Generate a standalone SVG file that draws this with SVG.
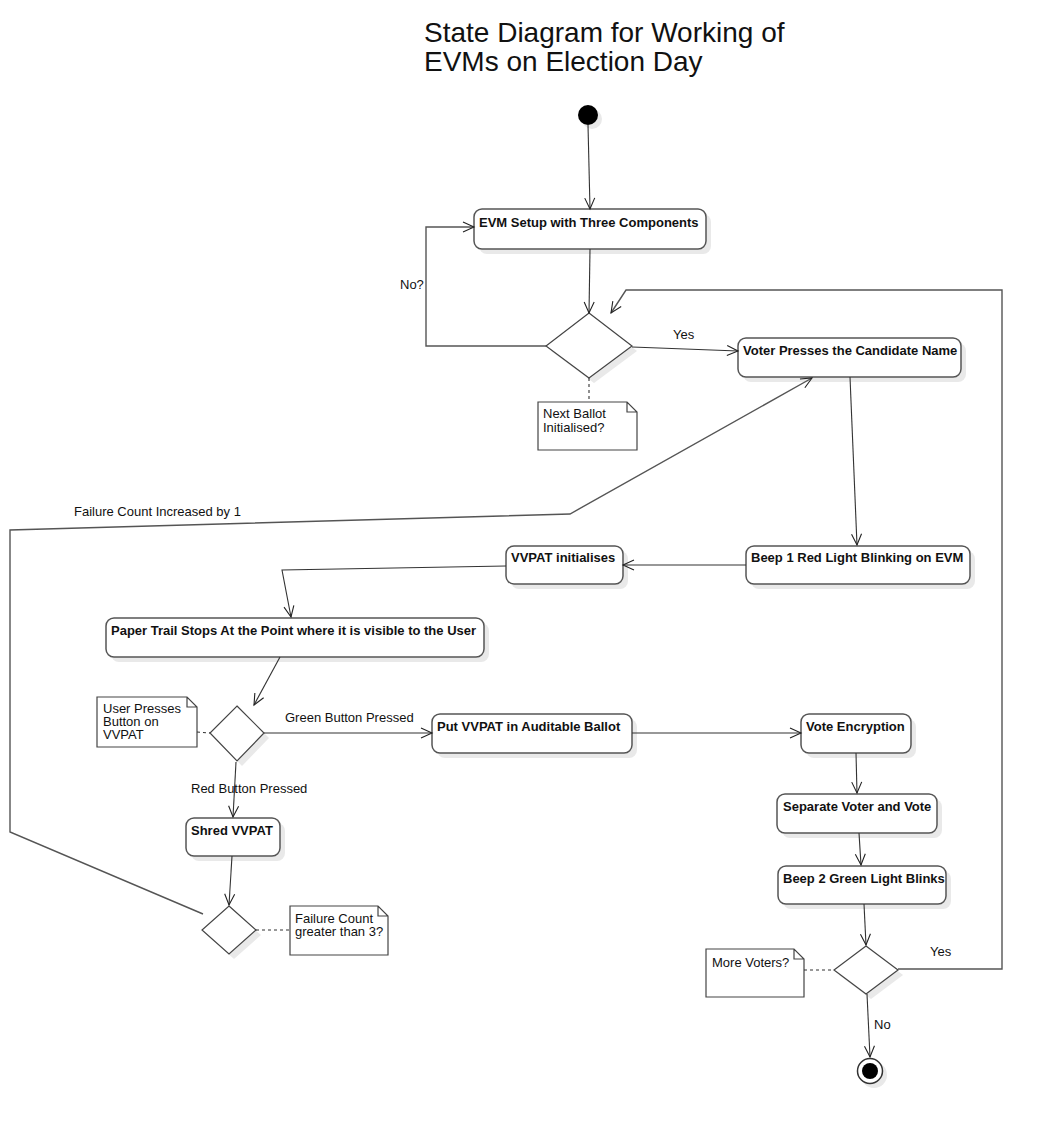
<svg xmlns="http://www.w3.org/2000/svg" width="1043" height="1123" viewBox="0 0 1043 1123">
<style>
text{font-family:"Liberation Sans",Arial,sans-serif;fill:#111}
.t{font-size:28px}
.b{font-size:13px;font-weight:bold}
.l{font-size:13px}
.box{fill:#fff;stroke:#555;stroke-width:1.5}
.sh{fill:#e9e9e9}
.dia{fill:#fff;stroke:#444;stroke-width:1.2}
.note{fill:#fff;stroke:#444;stroke-width:1.2}
.c{fill:none;stroke:#333;stroke-width:1.1}
.g{fill:none;stroke:#555;stroke-width:1.4}
.d{fill:none;stroke:#333;stroke-width:1.1;stroke-dasharray:3,3}
</style>
<defs>
<marker id="arr" markerUnits="userSpaceOnUse" markerWidth="14" markerHeight="14" refX="0" refY="0" orient="auto" overflow="visible">
<path d="M-11,-5 L0,0 L-11,5" fill="none" stroke="#222" stroke-width="1.1"/>
</marker>
</defs>
<rect width="1043" height="1123" fill="#fff"/>

<g id="title">
<text class="t" x="424" y="42">State Diagram for Working of</text>
<text class="t" x="424" y="71">EVMs on Election Day</text>
</g>

<g id="initial">
<circle class="sh" cx="592" cy="119" r="10"/>
<circle cx="588" cy="115" r="10" fill="#000"/>
</g>

<g id="evm-setup">
<rect class="sh" x="479" y="214" width="232" height="40" rx="8"/>
<rect class="box" x="474" y="209" width="232" height="40" rx="8"/>
<text class="b" x="479" y="227">EVM Setup with Three Components</text>
</g>

<g id="decision-ballot">
<polygon class="sh" points="594,318 637,351 594,383 551,351"/>
<polygon class="dia" points="589,313 632,346 589,378 546,346"/>
</g>

<g id="note-ballot">
<path class="note" d="M538,402 L627,402 L637,412 L637,450 L538,450 Z M627,402 L627,412 L637,412"/>
<text class="l" x="543" y="418">Next Ballot</text>
<text class="l" x="543" y="432">Initialised?</text>
</g>

<g id="voter-presses">
<rect class="sh" x="743" y="343" width="223" height="39" rx="8"/>
<rect class="box" x="738" y="338" width="223" height="39" rx="8"/>
<text class="b" x="743" y="355">Voter Presses the Candidate Name</text>
</g>

<g id="beep1">
<rect class="sh" x="751" y="551" width="224" height="38" rx="8"/>
<rect class="box" x="746" y="546" width="224" height="38" rx="8"/>
<text class="b" x="751" y="562">Beep 1 Red Light Blinking on EVM</text>
</g>

<g id="vvpat-init">
<rect class="sh" x="511" y="551" width="117" height="38" rx="8"/>
<rect class="box" x="506" y="546" width="117" height="38" rx="8"/>
<text class="b" x="511" y="562">VVPAT initialises</text>
</g>

<g id="paper-trail">
<rect class="sh" x="111" y="623" width="378" height="39" rx="8"/>
<rect class="box" x="106" y="618" width="378" height="39" rx="8"/>
<text class="b" x="111" y="635">Paper Trail Stops At the Point where it is visible to the User</text>
</g>

<g id="decision-button">
<polygon class="sh" points="242,711 269,738 242,766 215,738"/>
<polygon class="dia" points="237,706 264,733 237,761 210,733"/>
</g>

<g id="note-button">
<path class="note" d="M97,697 L187,697 L197,707 L197,747 L97,747 Z M187,697 L187,707 L197,707"/>
<text class="l" x="103" y="713">User Presses</text>
<text class="l" x="103" y="726">Button on</text>
<text class="l" x="103" y="739">VVPAT</text>
</g>

<g id="put-vvpat">
<rect class="sh" x="437" y="719" width="200" height="39" rx="8"/>
<rect class="box" x="432" y="714" width="200" height="39" rx="8"/>
<text class="b" x="437" y="731">Put VVPAT in Auditable Ballot</text>
</g>

<g id="vote-encryption">
<rect class="sh" x="806" y="719" width="110" height="39" rx="8"/>
<rect class="box" x="801" y="714" width="110" height="39" rx="8"/>
<text class="b" x="806" y="731">Vote Encryption</text>
</g>

<g id="separate">
<rect class="sh" x="782" y="799" width="160" height="39" rx="8"/>
<rect class="box" x="777" y="794" width="160" height="39" rx="8"/>
<text class="b" x="783" y="811">Separate Voter and Vote</text>
</g>

<g id="beep2">
<rect class="sh" x="783" y="871" width="168" height="38" rx="8"/>
<rect class="box" x="778" y="866" width="168" height="38" rx="8"/>
<text class="b" x="783" y="883">Beep 2 Green Light Blinks</text>
</g>

<g id="shred">
<rect class="sh" x="191" y="823" width="94" height="38" rx="8"/>
<rect class="box" x="186" y="818" width="94" height="38" rx="8"/>
<text class="b" x="191" y="835">Shred VVPAT</text>
</g>

<g id="decision-failure">
<polygon class="sh" points="234,911 261,935 234,959 207,935"/>
<polygon class="dia" points="229,906 256,930 229,954 202,930"/>
</g>

<g id="note-failure">
<path class="note" d="M290,906 L378,906 L388,916 L388,955 L290,955 Z M378,906 L378,916 L388,916"/>
<text class="l" x="295" y="923">Failure Count</text>
<text class="l" x="295" y="936">greater than 3?</text>
</g>

<g id="decision-voters">
<polygon class="sh" points="871,951 903,975 871,999 839,975"/>
<polygon class="dia" points="866,946 898,970 866,994 834,970"/>
</g>

<g id="note-voters">
<path class="note" d="M706,949 L794,949 L804,959 L804,997 L706,997 Z M794,949 L794,959 L804,959"/>
<text class="l" x="712" y="967">More Voters?</text>
</g>

<g id="final">
<circle class="sh" cx="874" cy="1075" r="13"/>
<circle cx="870" cy="1071" r="12.5" fill="#fff" stroke="#333" stroke-width="1.5"/>
<circle cx="870" cy="1071" r="8" fill="#000"/>
</g>

<g id="connectors">
<line class="c" x1="588" y1="125" x2="590" y2="209" marker-end="url(#arr)"/>
<line class="c" x1="590" y1="249" x2="589" y2="313" marker-end="url(#arr)"/>
<polyline class="g" points="546,346 426,346 426,227 474,227" marker-end="url(#arr)"/>
<line class="c" x1="632" y1="347" x2="738" y2="351" marker-end="url(#arr)"/>
<line class="c" x1="850" y1="377" x2="857" y2="545" marker-end="url(#arr)"/>
<line class="c" x1="746" y1="565" x2="623" y2="565" marker-end="url(#arr)"/>
<polyline class="c" points="506,566 282,570 291,617" marker-end="url(#arr)"/>
<line class="c" x1="280" y1="657" x2="254" y2="705" marker-end="url(#arr)"/>
<line class="c" x1="264" y1="733" x2="432" y2="733" marker-end="url(#arr)"/>
<line class="c" x1="236" y1="762" x2="233" y2="817" marker-end="url(#arr)"/>
<line class="c" x1="632" y1="733" x2="801" y2="733" marker-end="url(#arr)"/>
<line class="c" x1="856" y1="753" x2="857" y2="793" marker-end="url(#arr)"/>
<line class="c" x1="859" y1="833" x2="861" y2="865" marker-end="url(#arr)"/>
<line class="c" x1="864" y1="904" x2="866" y2="945" marker-end="url(#arr)"/>
<line class="c" x1="867" y1="994" x2="870" y2="1057" marker-end="url(#arr)"/>
<line class="c" x1="232" y1="856" x2="229" y2="905" marker-end="url(#arr)"/>
<polyline class="g" points="203,914 10,832 10,530 570,514 812,378" marker-end="url(#arr)"/>
<polyline class="g" points="898,969 1002,969 1002,290 626,290 611,313" marker-end="url(#arr)"/>
<line class="d" x1="589" y1="378" x2="589" y2="402"/>
<line class="d" x1="197" y1="732" x2="210" y2="733"/>
<line class="d" x1="256" y1="930" x2="290" y2="930"/>
<line class="d" x1="804" y1="970" x2="834" y2="970"/>
<text class="l" x="400" y="289">No?</text>
<text class="l" x="673" y="339">Yes</text>
<text class="l" x="74" y="516">Failure Count Increased by 1</text>
<text class="l" x="285" y="722">Green Button Pressed</text>
<text class="l" x="191" y="793">Red Button Pressed</text>
<text class="l" x="930" y="956">Yes</text>
<text class="l" x="874" y="1029">No</text>
</g>
</svg>
